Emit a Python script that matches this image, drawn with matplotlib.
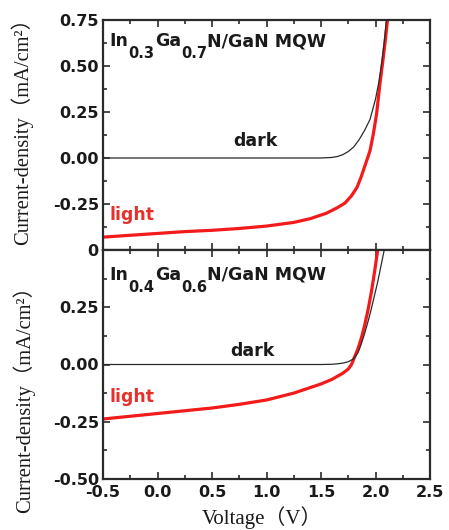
import matplotlib
matplotlib.use("Agg")
import matplotlib.pyplot as plt
from matplotlib.ticker import MultipleLocator, FixedLocator, FixedFormatter

# ---- In0.3Ga0.7N/GaN MQW ----
v_dark_03 = [-0.5, 0.0, 0.5, 1.0, 1.5, 1.6, 1.65, 1.7, 1.75, 1.8, 1.85, 1.9, 1.95, 2.0, 2.03, 2.06, 2.08, 2.10]
j_dark_03 = [0.0, 0.0, 0.0, 0.0, 0.0, 0.003, 0.008, 0.018, 0.035, 0.06, 0.10, 0.15, 0.21, 0.32, 0.41, 0.53, 0.63, 0.75]

v_light_03 = [-0.5, -0.25, 0.0, 0.25, 0.5, 0.75, 1.0, 1.25, 1.4, 1.55, 1.65, 1.72, 1.78, 1.83, 1.87,
              1.91, 1.95, 1.98, 2.01, 2.04, 2.07, 2.09, 2.11]
j_light_03 = [-0.43, -0.42, -0.41, -0.40, -0.393, -0.383, -0.37, -0.35, -0.33, -0.30, -0.27, -0.245, -0.205, -0.16, -0.10,
              -0.03, 0.04, 0.13, 0.24, 0.40, 0.54, 0.64, 0.75]

# ---- In0.4Ga0.6N/GaN MQW ----
v_dark_04 = [-0.5, 0.0, 0.5, 1.0, 1.5, 1.6, 1.65, 1.7, 1.75, 1.8, 1.84, 1.87, 1.9, 1.93, 1.96, 1.99, 2.02, 2.05, 2.08]
j_dark_04 = [0.0, 0.0, 0.0, 0.0, 0.0, 0.001, 0.003, 0.006, 0.012, 0.025, 0.052, 0.09, 0.135, 0.185, 0.24, 0.30, 0.36, 0.43, 0.50]

v_light_04 = [-0.5, -0.25, 0.0, 0.25, 0.5, 0.75, 1.0, 1.25, 1.5, 1.6, 1.7, 1.75, 1.78, 1.81, 1.84,
              1.87, 1.9, 1.93, 1.96, 1.99, 2.02]
j_light_04 = [-0.238, -0.226, -0.214, -0.202, -0.19, -0.174, -0.155, -0.125, -0.085, -0.065, -0.038, -0.02, 0.0, 0.035, 0.07,
              0.115, 0.17, 0.235, 0.31, 0.40, 0.50]

x_ticks = [-0.5, 0.0, 0.5, 1.0, 1.5, 2.0, 2.5]
x_tick_labels = ["-0.5", "0.0", "0.5", "1.0", "1.5", "2.0", "2.5"]
y_ticks_top = [-0.25, 0.0, 0.25, 0.5, 0.75]
y_tick_labels_top = ["-0.25", "0.00", "0.25", "0.50", "0.75"]
y_ticks_bottom = [-0.5, -0.25, 0.0, 0.25, 0.5]
y_tick_labels_bottom = ["-0.50", "-0.25", "0.00", "0.25", "0"]

# panel titles as (text, is_subscript) pieces
title_03 = [("In", False), ("0.3", True), ("Ga", False), ("0.7", True), ("N/GaN MQW", False)]
title_04 = [("In", False), ("0.4", True), ("Ga", False), ("0.6", True), ("N/GaN MQW", False)]
ylabel_text = "Current-density（mA/cm²）"
xlabel_text = "Voltage（V）"

plt.rcParams["font.family"] = "DejaVu Sans"

DARK = "#2a2a2a"
RED = "#f21a1a"
SPINE = "#2b2b2b"
TXT = "#1a1a1a"
serif_cjk = ["Liberation Serif", "Noto Sans CJK SC"]

W, H = 449, 530
fig = plt.figure(figsize=(W / 100, H / 100), dpi=100)
left = 103 / W
width = (430 - 103) / W
ax_top = fig.add_axes([left, 1 - 250 / H, width, 230 / H])
ax_bot = fig.add_axes([left, 1 - 479 / H, width, 229 / H])


def style_axis(ax, yticks, ylabels, show_x):
    ax.set_xlim(-0.5, 2.5)
    ax.xaxis.set_major_locator(FixedLocator(x_ticks))
    ax.xaxis.set_minor_locator(MultipleLocator(0.25))
    ax.yaxis.set_major_locator(FixedLocator(yticks))
    ax.yaxis.set_major_formatter(FixedFormatter(ylabels))
    ax.yaxis.set_minor_locator(MultipleLocator(0.125))
    if show_x:
        ax.xaxis.set_major_formatter(FixedFormatter(x_tick_labels))
    else:
        ax.tick_params(axis="x", labelbottom=False)
    ax.tick_params(which="both", direction="in", top=True, right=True,
                   color=SPINE, width=1.2)
    ax.tick_params(which="major", length=5)
    ax.tick_params(which="minor", length=3)
    ax.tick_params(axis="y", pad=3)
    ax.tick_params(axis="x", pad=4.5)
    for lab in ax.get_xticklabels() + ax.get_yticklabels():
        lab.set_fontweight("bold")
        lab.set_fontsize(11.5)
        lab.set_color(TXT)
    for s in ax.spines.values():
        s.set_linewidth(1.6)
        s.set_color(SPINE)


def panel_title(ax, x, y, pieces):
    # chain the pieces left to right, dropping the subscripts below the baseline
    first = ax.text(x, y, pieces[0][0], transform=ax.transAxes, fontsize=12.5,
                    fontweight="bold", color=TXT, ha="left", va="bottom")
    prev, prev_sub = first, False
    for txt, sub in pieces[1:]:
        shift = 0
        if sub and not prev_sub:
            shift = -8
        elif prev_sub and not sub:
            shift = 8
        prev = ax.annotate(txt, xy=(1, 0), xycoords=prev, xytext=(0, shift),
                           textcoords="offset points", fontsize=10.5 if sub else 12.5,
                           fontweight="bold", color=TXT, ha="left", va="bottom")
        prev_sub = sub


# upper panel
ax_top.set_ylim(-0.5, 0.75)
ax_top.plot(v_dark_03, j_dark_03, color=DARK, lw=0.9, zorder=3)
ax_top.plot(v_light_03, j_light_03, color=RED, lw=2.3, zorder=2)
style_axis(ax_top, y_ticks_top, y_tick_labels_top, False)
panel_title(ax_top, 0.021, 0.868, title_03)
ax_top.text(0.9, 0.09, "dark", fontsize=12.5, fontweight="bold", color=TXT,
            ha="center", va="center")
ax_top.text(-0.44, -0.31, "light", fontsize=12.5, fontweight="bold", color="#e8302a",
            ha="left", va="center")

# lower panel
ax_bot.set_ylim(-0.5, 0.5)
ax_bot.plot(v_dark_04, j_dark_04, color=DARK, lw=0.9, zorder=3)
ax_bot.plot(v_light_04, j_light_04, color=RED, lw=2.3, zorder=2)
style_axis(ax_bot, y_ticks_bottom, y_tick_labels_bottom, True)
panel_title(ax_bot, 0.021, 0.853, title_04)
ax_bot.text(0.87, 0.059, "dark", fontsize=12.5, fontweight="bold", color=TXT,
            ha="center", va="center")
ax_bot.text(-0.44, -0.142, "light", fontsize=12.5, fontweight="bold", color="#e8302a",
            ha="left", va="center")

# axis titles
fig.text(22 / W, 1 - 126 / H, ylabel_text, rotation=90, family=serif_cjk,
         fontsize=14.8, ha="center", va="center", color=TXT)
fig.text(24 / W, 1 - 394 / H, ylabel_text, rotation=90, family=serif_cjk,
         fontsize=14.8, ha="center", va="center", color=TXT)
fig.text(262 / W, 1 - 518 / H, xlabel_text, family=serif_cjk,
         fontsize=15, ha="center", va="center", color=TXT)

fig.savefig("out.png", dpi=100)
